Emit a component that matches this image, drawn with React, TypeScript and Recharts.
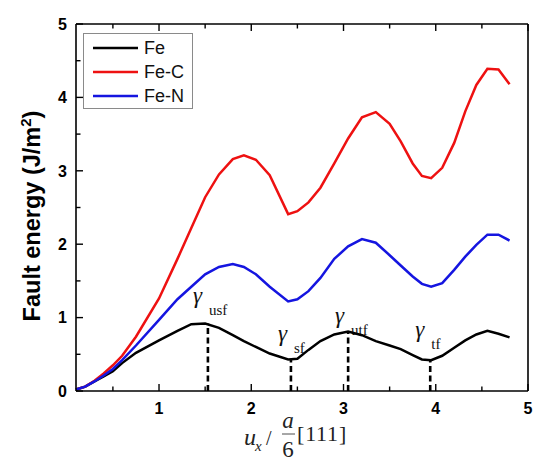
import React from 'react';
import { LineChart, Line, XAxis, YAxis, ReferenceLine } from 'recharts';

// displacement u_x in units of a/6[111]
const U = [0.1, 0.2, 0.3, 0.4, 0.5, 0.6, 0.75, 1.0, 1.2, 1.35, 1.5, 1.65, 1.8, 1.92, 2.05, 2.2, 2.4, 2.5, 2.62, 2.75, 2.9, 3.05, 3.2, 3.35, 3.5, 3.62, 3.75, 3.85, 3.95, 4.07, 4.2, 4.32, 4.44, 4.56, 4.68, 4.8];
const FE = [0.02, 0.06, 0.13, 0.2, 0.27, 0.38, 0.52, 0.69, 0.82, 0.91, 0.92, 0.86, 0.76, 0.68, 0.6, 0.51, 0.43, 0.44, 0.56, 0.68, 0.77, 0.81, 0.76, 0.68, 0.62, 0.57, 0.49, 0.43, 0.42, 0.48, 0.59, 0.69, 0.77, 0.82, 0.78, 0.73];
const FE_C = [0.02, 0.06, 0.14, 0.24, 0.35, 0.48, 0.74, 1.26, 1.8, 2.22, 2.64, 2.95, 3.16, 3.21, 3.15, 2.94, 2.41, 2.45, 2.57, 2.77, 3.1, 3.44, 3.73, 3.8, 3.64, 3.4, 3.1, 2.93, 2.9, 3.04, 3.38, 3.81, 4.17, 4.39, 4.38, 4.18];
const FE_N = [0.02, 0.06, 0.13, 0.21, 0.3, 0.42, 0.62, 0.97, 1.25, 1.42, 1.59, 1.69, 1.73, 1.69, 1.59, 1.42, 1.22, 1.25, 1.36, 1.54, 1.8, 1.97, 2.07, 2.02, 1.85, 1.71, 1.56, 1.46, 1.42, 1.47, 1.65, 1.83, 1.99, 2.13, 2.13, 2.05];

const X_TICKS = [0.5, 1, 1.5, 2, 2.5, 3, 3.5, 4, 4.5, 5];
const Y_TICKS = [0, 0.5, 1, 1.5, 2, 2.5, 3, 3.5, 4, 4.5, 5];

// characteristic fault energies on the Fe curve
const MARK_U = [1.53, 2.43, 3.05, 3.94];
const MARK_E = [0.92, 0.43, 0.81, 0.42];
const MARK_SUB = ['usf', 'sf', 'utf', 'tf'];

const SERIES = [
  { key: 'fe', name: 'Fe', color: '#000000' },
  { key: 'fec', name: 'Fe-C', color: '#ee1111' },
  { key: 'fen', name: 'Fe-N', color: '#1515e0' },
];

const rows = U.map((u, i) => ({ u, fe: FE[i], fec: FE_C[i], fen: FE_N[i] }));

const W = 550;
const H = 474;
const SANS = '"Liberation Sans", Arial, sans-serif';
const SERIF = '"Liberation Serif", "Times New Roman", serif';

// label placement relative to top of each dashed line (px)
const LABEL_OFF = [
  { dx: -15, dy: -20 },
  { dx: -13, dy: -18 },
  { dx: -13, dy: -9 },
  { dx: -15, dy: -23 },
];

const tickLen = (v: number) => (Number.isInteger(v) ? 7 : 4.5);

function BottomTick({ x, y, payload }: any) {
  const v = payload.value;
  return (
    <g>
      <line x1={x} x2={x} y1={y} y2={y - tickLen(v)} stroke="#000" strokeWidth={1.4} />
      {Number.isInteger(v) && (
        <text x={x} y={y + 23} textAnchor="middle" fontFamily={SANS} fontWeight="bold" fontSize={16} fill="#000">
          {v}
        </text>
      )}
    </g>
  );
}

function TopTick({ x, y, payload }: any) {
  return <line x1={x} x2={x} y1={y} y2={y + tickLen(payload.value)} stroke="#000" strokeWidth={1.4} />;
}

function LeftTick({ x, y, payload }: any) {
  const v = payload.value;
  return (
    <g>
      <line x1={x} x2={x + tickLen(v)} y1={y} y2={y} stroke="#000" strokeWidth={1.4} />
      {Number.isInteger(v) && (
        <text x={x - 9} y={y} dy="0.36em" textAnchor="end" fontFamily={SANS} fontWeight="bold" fontSize={16} fill="#000">
          {v}
        </text>
      )}
    </g>
  );
}

function RightTick({ x, y, payload }: any) {
  return <line x1={x} x2={x - tickLen(payload.value)} y1={y} y2={y} stroke="#000" strokeWidth={1.4} />;
}

function GammaLabel({ viewBox, sub, dx, dy }: any) {
  const x = viewBox.x + dx;
  const y = viewBox.y + dy;
  return (
    <text fontFamily={SERIF} fill="#111">
      <tspan x={x} y={y} fontStyle="italic" fontSize={23}>
        γ
      </tspan>
      <tspan x={x + 16} y={y + 12} fontSize={15}>
        {sub}
      </tspan>
    </text>
  );
}

function Overlay() {
  return (
    <svg width={W} height={H} style={{ position: 'absolute', left: 0, top: 0, pointerEvents: 'none' }}>
      {/* legend */}
      <rect x={83.5} y={33.5} width={109} height={75} fill="#fff" stroke="#8a8a8a" strokeWidth={1} />
      {SERIES.map((s, i) => (
        <g key={s.key}>
          <line x1={93} x2={138} y1={48 + i * 24} y2={48 + i * 24} stroke={s.color} strokeWidth={2.6} />
          <text x={144} y={48 + i * 24} dy="0.36em" fontFamily={SANS} fontSize={18} fill="#111">
            {s.name}
          </text>
        </g>
      ))}
      {/* y title */}
      <text
        transform="translate(40,216) rotate(-90)"
        textAnchor="middle"
        fontFamily={SANS}
        fontWeight="bold"
        fontSize={23.5}
        fill="#000"
      >
        Fault energy (J/m
        <tspan fontSize={15} dy={-9}>
          2
        </tspan>
        <tspan dy={9}>)</tspan>
      </text>
      {/* x title: u_x / (a/6)[111] */}
      <g fontFamily={SERIF} fill="#222">
        <text x={244} y={445} fontStyle="italic" fontSize={24}>
          u
        </text>
        <text x={255} y={451} fontStyle="italic" fontSize={15}>
          x
        </text>
        <text x={266} y={445} fontSize={20}>
          /
        </text>
        <text x={288} y={428} textAnchor="middle" fontStyle="italic" fontSize={23}>
          a
        </text>
        <line x1={282} x2={295} y1={434} y2={434} stroke="#222" strokeWidth={0.8} />
        <text x={288} y={457} textAnchor="middle" fontSize={23}>
          6
        </text>
        <text x={297} y={441} fontSize={22} letterSpacing={0.8}>
          [111]
        </text>
      </g>
    </svg>
  );
}

const axisLine = { stroke: '#000', strokeWidth: 1.6 };

export default function App() {
  return (
    <div style={{ position: 'absolute', left: 0, top: 0, width: W, height: H, background: '#fff' }}>
      <LineChart width={W} height={H} data={rows} margin={{ top: 23, right: 21, bottom: 82, left: 75 }}>
        <XAxis
          dataKey="u"
          type="number"
          domain={[0.1, 5]}
          ticks={X_TICKS}
          interval={0}
          height={1}
          tickSize={0}
          tickMargin={0}
          tickLine={false}
          axisLine={axisLine}
          tick={<BottomTick />}
        />
        <XAxis
          xAxisId="top"
          orientation="top"
          dataKey="u"
          type="number"
          domain={[0.1, 5]}
          ticks={X_TICKS}
          interval={0}
          height={1}
          tickSize={0}
          tickMargin={0}
          tickLine={false}
          axisLine={axisLine}
          tick={<TopTick />}
        />
        <YAxis
          type="number"
          domain={[0, 5]}
          ticks={Y_TICKS}
          interval={0}
          width={1}
          tickSize={0}
          tickMargin={0}
          tickLine={false}
          axisLine={axisLine}
          tick={<LeftTick />}
        />
        <YAxis
          yAxisId="right"
          orientation="right"
          type="number"
          domain={[0, 5]}
          ticks={Y_TICKS}
          interval={0}
          width={1}
          tickSize={0}
          tickMargin={0}
          tickLine={false}
          axisLine={axisLine}
          tick={<RightTick />}
        />
        {MARK_U.map((u, i) => (
          <ReferenceLine
            key={MARK_SUB[i]}
            segment={[
              { x: u, y: 0 },
              { x: u, y: MARK_E[i] },
            ]}
            stroke="#000"
            strokeWidth={2.6}
            strokeDasharray="6 3.5"
            label={<GammaLabel sub={MARK_SUB[i]} dx={LABEL_OFF[i].dx} dy={LABEL_OFF[i].dy} />}
          />
        ))}
        {SERIES.map((s) => (
          <Line
            key={s.key}
            type="linear"
            dataKey={s.key}
            name={s.name}
            stroke={s.color}
            strokeWidth={2.5}
            dot={false}
            isAnimationActive={false}
          />
        ))}
      </LineChart>
      <Overlay />
    </div>
  );
}
